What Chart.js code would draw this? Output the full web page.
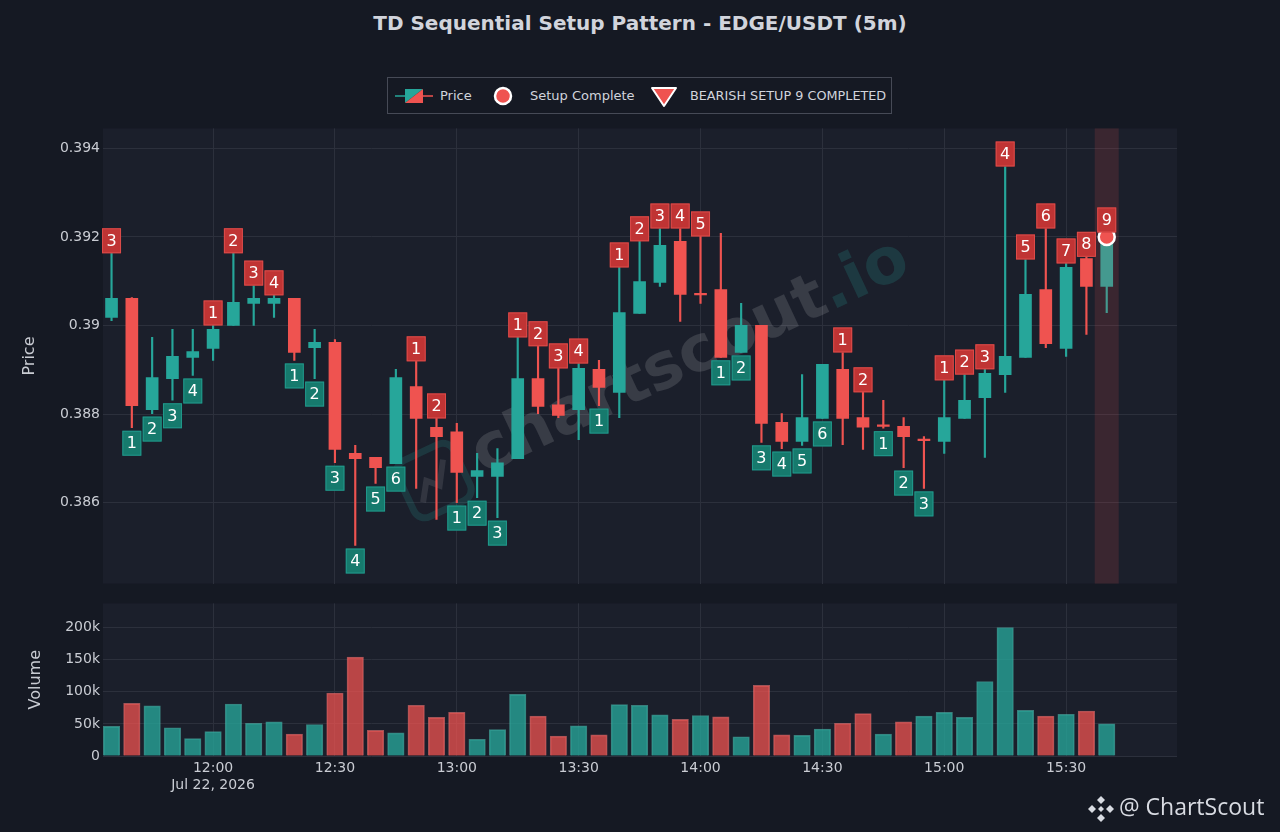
<!DOCTYPE html>
<html lang="en">
<head>
    <meta charset="UTF-8">
    <meta name="viewport" content="width=device-width, initial-scale=1.0">
    <title>TD Sequential Setup Pattern - EDGE/USDT (5m)</title>
    <script src="https://cdn.jsdelivr.net/npm/chart.js"></script>
    <style>
        * {
            margin: 0;
            padding: 0;
            box-sizing: border-box;
        }
        body {
            width: 1280px;
            height: 832px;
            position: relative;
            overflow: hidden;
            background: #151923;
            color: #d1d4dc;
            font-family: 'DejaVu Sans', sans-serif;
        }
        h1 {
            position: absolute;
            top: 11px;
            left: 0;
            width: 1280px;
            text-align: center;
            font-size: 20px;
            font-weight: bold;
            color: #d1d4dc;
        }
        .legend {
            position: absolute;
            left: 387px;
            top: 77px;
            width: 505px;
            height: 37px;
            border: 1px solid #464a56;
            font-size: 13px;
        }
        .legend span, .legend svg {
            position: absolute;
        }
        .legend span {
            top: 10px;
            white-space: nowrap;
        }
        #priceChart {
            position: absolute;
            left: 0;
            top: 117px;
        }
        #volumeChart {
            position: absolute;
            left: 0;
            top: 592px;
        }
        .brand {
            position: absolute;
            left: 1087px;
            top: 790px;
            height: 32px;
            font-family: 'Open Sans', sans-serif;
            font-size: 23px;
            color: #d8dbe2;
            white-space: nowrap;
        }
        .brand svg {
            vertical-align: middle;
            margin-right: 4px;
        }
    </style>
</head>
<body>
    <h1>TD Sequential Setup Pattern - EDGE/USDT (5m)</h1>
    <div class="legend">
        <svg style="left:7px; top:10px" width="38" height="16" viewBox="0 0 38 16">
            <line x1="0" y1="8" x2="10" y2="8" stroke="#26a69a" stroke-width="1.5"/>
            <polygon points="10,1 28,1 10,15" fill="#26a69a"/>
            <polygon points="28,1 28,15 10,15" fill="#ef5350"/>
            <line x1="28" y1="8" x2="38" y2="8" stroke="#ef5350" stroke-width="1.5"/>
        </svg>
        <span style="left:52px">Price</span>
        <svg style="left:104px; top:7px" width="22" height="22" viewBox="0 0 22 22">
            <circle cx="11" cy="11" r="8" fill="#ef5350" stroke="#ffffff" stroke-width="2.5"/>
        </svg>
        <span style="left:142px">Setup Complete</span>
        <svg style="left:262px; top:8px" width="28" height="22" viewBox="0 0 28 22">
            <polygon points="2,2 26,2 14,20" fill="#ef5350" stroke="#ffffff" stroke-width="2" stroke-linejoin="round"/>
        </svg>
        <span style="left:302px; font-size:12.8px">BEARISH SETUP 9 COMPLETED</span>
    </div>
    <canvas id="priceChart" width="1280" height="478"></canvas>
    <canvas id="volumeChart" width="1280" height="219"></canvas>
    <div class="brand">
        <svg width="28" height="28" viewBox="0 0 28 28">
            <g fill="#d8dbe2">
                <polygon points="14,1 18,5 14,9 10,5"/>
                <polygon points="14,19 18,23 14,27 10,23"/>
                <polygon points="5,10 9,14 5,18 1,14"/>
                <polygon points="23,10 27,14 23,18 19,14"/>
                <polygon points="14,11 17,14 14,17 11,14"/>
            </g>
        </svg>@ ChartScout
    </div>
    <script>
        // candles, 5 minute bars, Jul 22 2026
        const times = ['11:35', '11:40', '11:45', '11:50', '11:55', '12:00', '12:05', '12:10', '12:15', '12:20',
                       '12:25', '12:30', '12:35', '12:40', '12:45', '12:50', '12:55', '13:00', '13:05', '13:10',
                       '13:15', '13:20', '13:25', '13:30', '13:35', '13:40', '13:45', '13:50', '13:55', '14:00',
                       '14:05', '14:10', '14:15', '14:20', '14:25', '14:30', '14:35', '14:40', '14:45', '14:50',
                       '14:55', '15:00', '15:05', '15:10', '15:15', '15:20', '15:25', '15:30', '15:35', '15:40'];
        const openPrices = [0.39018, 0.39061, 0.38810, 0.38880, 0.38928, 0.38948, 0.39000, 0.39050, 0.39050, 0.39061,
                            0.38950, 0.38962, 0.38711, 0.38702, 0.38688, 0.38862, 0.38770, 0.38760, 0.38659, 0.38659,
                            0.38699, 0.38880, 0.38821, 0.38810, 0.38901, 0.38849, 0.39027, 0.39097, 0.39190, 0.39069,
                            0.39081, 0.38939, 0.39000, 0.38781, 0.38738, 0.38790, 0.38901, 0.38792, 0.38772, 0.38772,
                            0.38740, 0.38738, 0.38790, 0.38837, 0.38889, 0.38928, 0.39081, 0.38948, 0.39151, 0.39088];
        const highPrices = [0.39163, 0.39063, 0.38973, 0.38991, 0.38991, 0.39000, 0.39163, 0.39090, 0.39068, 0.39061,
                            0.38991, 0.38968, 0.38729, 0.38702, 0.38901, 0.38919, 0.38790, 0.38779, 0.38711, 0.38722,
                            0.38973, 0.38953, 0.38903, 0.38914, 0.38921, 0.39131, 0.39190, 0.39219, 0.39219, 0.39201,
                            0.39208, 0.39050, 0.39000, 0.38801, 0.38889, 0.38912, 0.38939, 0.38849, 0.38831, 0.38792,
                            0.38749, 0.38876, 0.38889, 0.38901, 0.39359, 0.39149, 0.39219, 0.39140, 0.39155, 0.39210];
        const lowPrices = [0.39011, 0.38769, 0.38801, 0.38831, 0.38887, 0.38921, 0.39000, 0.39000, 0.39018, 0.38921,
                           0.38880, 0.38690, 0.38503, 0.38643, 0.38688, 0.38632, 0.38562, 0.38600, 0.38611, 0.38566,
                           0.38699, 0.38801, 0.38792, 0.38742, 0.38819, 0.38792, 0.39027, 0.39088, 0.39009, 0.39050,
                           0.38928, 0.38939, 0.38736, 0.38722, 0.38729, 0.38790, 0.38731, 0.38720, 0.38768, 0.38679,
                           0.38632, 0.38711, 0.38790, 0.38702, 0.38849, 0.38928, 0.38950, 0.38930, 0.38980, 0.39029];
        const closePrices = [0.39061, 0.38819, 0.38882, 0.38930, 0.38941, 0.38991, 0.39052, 0.39061, 0.39061, 0.38939,
                             0.38962, 0.38720, 0.38699, 0.38679, 0.38882, 0.38790, 0.38749, 0.38668, 0.38672, 0.38690,
                             0.38880, 0.38817, 0.38797, 0.38903, 0.38860, 0.39029, 0.39099, 0.39181, 0.39070, 0.39069,
                             0.38928, 0.39000, 0.38779, 0.38738, 0.38792, 0.38912, 0.38790, 0.38770, 0.38772, 0.38749,
                             0.38740, 0.38792, 0.38831, 0.38892, 0.38930, 0.39070, 0.38959, 0.39131, 0.39088, 0.39200];
        const volumes = [46000, 82000, 78000, 44000, 27000, 38000, 81000, 51000, 53000, 34000,
                         49000, 98000, 154000, 40000, 36000, 79000, 60000, 68000, 26000, 41000,
                         96000, 62000, 31000, 47000, 33000, 80000, 79000, 64000, 57000, 63000,
                         61000, 30000, 110000, 33000, 32000, 42000, 51000, 66000, 34000, 53000,
                         62000, 68000, 60000, 116000, 200000, 71000, 62000, 65000, 70000, 50000];
        // TD setup counts: sell counts sit above the candle, buy counts below
        const sellSetup = [3, null, null, null, null, 1, 2, 3, 4, null,
                           null, null, null, null, null, 1, 2, null, null, null,
                           1, 2, 3, 4, null, 1, 2, 3, 4, 5,
                           null, null, null, null, null, null, 1, 2, null, null,
                           null, 1, 2, 3, 4, 5, 6, 7, 8, 9];
        const buySetup = [null, 1, 2, 3, 4, null, null, null, null, 1,
                          2, 3, 4, 5, 6, null, null, 1, 2, 3,
                          null, null, null, null, 1, null, null, null, null, null,
                          1, 2, 3, 4, 5, 6, null, null, 1, 2,
                          3, null, null, null, null, null, null, null, null, null];
        const timeTicks = ['12:00', '12:30', '13:00', '13:30', '14:00', '14:30', '15:00', '15:30'];
        const dateLabel = 'Jul 22, 2026';
        const priceTicks = [0.386, 0.388, 0.39, 0.392, 0.394];
        const volumeTicks = [0, 50000, 100000, 150000, 200000];

        const UP = '#26a69a';
        const DOWN = '#ef5350';
        const GRID = '#2c303c';
        const TEXT = '#c9ccd3';
        const PLOT_BG = '#1b1f2b';

        Chart.defaults.font.family = "'DejaVu Sans', sans-serif";
        Chart.defaults.color = TEXT;

        function toMinutes(s) {
            const parts = s.split(':').map(Number);
            return parts[0] * 60 + parts[1];
        }

        const mins = times.map(toMinutes);
        const xMin = mins[0] - 2.1;
        const xMax = mins[mins.length - 1] + 17.3;
        const completeIdx = sellSetup.indexOf(9);

        const candleColors = mins.map((m, i) => closePrices[i] > openPrices[i] ? UP : DOWN);
        const volumeColors = mins.map((m, i) => closePrices[i] >= openPrices[i] ? 'rgba(38,166,154,0.78)' : 'rgba(239,83,80,0.75)');
        const volumeBorders = mins.map((m, i) => closePrices[i] >= openPrices[i] ? 'rgba(80,190,178,0.6)' : 'rgba(250,120,118,0.6)');

        function timeAxis(showLabels) {
            return {
                type: 'linear',
                min: xMin,
                max: xMax,
                offset: false,
                afterBuildTicks: s => { s.ticks = timeTicks.map(t => ({ value: toMinutes(t) })); },
                grid: { color: GRID, drawTicks: false, offset: false },
                border: { display: false },
                ticks: {
                    display: showLabels,
                    autoSkip: false,
                    maxRotation: 0,
                    padding: 4,
                    color: TEXT,
                    font: { size: 14 },
                    callback: (v, i) => i === 0 ? [timeTicks[i], dateLabel] : timeTicks[i]
                },
                afterFit: s => { s.height = showLabels ? 45 : 0; }
            };
        }

        function fillPlot(chart) {
            const a = chart.chartArea;
            chart.ctx.save();
            chart.ctx.fillStyle = PLOT_BG;
            chart.ctx.fillRect(a.left, a.top, a.right - a.left, a.bottom - a.top);
            chart.ctx.restore();
        }

        function drawWatermark(chart) {
            const ctx = chart.ctx;
            const a = chart.chartArea;
            ctx.save();
            ctx.beginPath();
            ctx.rect(a.left, a.top, a.right - a.left, a.bottom - a.top);
            ctx.clip();
            ctx.translate(a.left + 588, a.top + 230);
            ctx.rotate(-0.44);
            ctx.font = "bold 64px 'DejaVu Sans'";
            ctx.textBaseline = 'middle';
            const w1 = ctx.measureText('chartscout').width;
            const w2 = ctx.measureText('.io').width;
            const x0 = -(w1 + w2) / 2;
            ctx.fillStyle = 'rgba(255,255,255,0.13)';
            ctx.fillText('chartscout', x0, 0);
            ctx.fillStyle = 'rgba(38,166,154,0.2)';
            ctx.fillText('.io', x0 + w1, 0);
            // logo
            ctx.strokeStyle = 'rgba(38,166,154,0.18)';
            ctx.lineWidth = 7;
            ctx.beginPath();
            ctx.roundRect(x0 - 78, -30, 62, 62, 12);
            ctx.stroke();
            ctx.strokeStyle = 'rgba(255,255,255,0.1)';
            ctx.lineWidth = 6;
            ctx.beginPath();
            ctx.moveTo(x0 - 66, 16);
            ctx.lineTo(x0 - 54, -2);
            ctx.lineTo(x0 - 44, 8);
            ctx.lineTo(x0 - 30, -14);
            ctx.stroke();
            ctx.restore();
        }

        function drawBand(chart) {
            const ctx = chart.ctx;
            const a = chart.chartArea;
            const xs = chart.scales.x;
            const x1 = xs.getPixelForValue(mins[completeIdx] - 2.95);
            const x2 = xs.getPixelForValue(mins[completeIdx] + 2.95);
            ctx.save();
            ctx.fillStyle = 'rgba(239,83,80,0.15)';
            ctx.fillRect(x1, a.top, x2 - x1, a.bottom - a.top);
            ctx.restore();
        }

        function drawCountBox(ctx, x, yTop, text, fill, stroke) {
            const w = 19, h = 25;
            ctx.fillStyle = fill;
            ctx.fillRect(x - w / 2, yTop, w, h);
            ctx.strokeStyle = stroke;
            ctx.lineWidth = 1;
            ctx.strokeRect(x - w / 2 + 0.5, yTop + 0.5, w - 1, h - 1);
            ctx.fillStyle = '#ffffff';
            ctx.fillText(text, x, yTop + h / 2 + 1);
        }

        function drawCounts(chart) {
            const ctx = chart.ctx;
            const xs = chart.scales.x;
            const ys = chart.scales.y;
            ctx.save();
            ctx.font = "16px 'DejaVu Sans'";
            ctx.textAlign = 'center';
            ctx.textBaseline = 'middle';
            mins.forEach((m, i) => {
                const x = xs.getPixelForValue(m);
                if (sellSetup[i] !== null) {
                    const yHigh = ys.getPixelForValue(highPrices[i]);
                    drawCountBox(ctx, x, yHigh - 25, String(sellSetup[i]), '#c03434', 'rgba(226,80,78,0.85)');
                }
                if (buySetup[i] !== null) {
                    const yLow = ys.getPixelForValue(lowPrices[i]);
                    drawCountBox(ctx, x, yLow + 3, String(buySetup[i]), '#167a6d', 'rgba(38,166,154,0.7)');
                }
            });
            ctx.restore();
        }

        const priceExtras = {
            id: 'priceExtras',
            beforeDraw: fillPlot,
            beforeDatasetsDraw: drawWatermark,
            afterDatasetDraw(chart, args) {
                if (args.index === 0) drawBand(chart);
            },
            afterDatasetsDraw: drawCounts
        };

        function renderPrice() {
            const ctx = document.getElementById('priceChart').getContext('2d');
            new Chart(ctx, {
                type: 'bar',
                data: {
                    datasets: [{
                        label: 'body',
                        data: mins.map((m, i) => ({ x: m, y: [openPrices[i], closePrices[i]] })),
                        backgroundColor: candleColors,
                        barThickness: 12,
                        minBarLength: 1.5,
                        grouped: false,
                        order: 1
                    }, {
                        label: 'wick',
                        data: mins.map((m, i) => ({ x: m, y: [lowPrices[i], highPrices[i]] })),
                        backgroundColor: candleColors,
                        barThickness: 1.5,
                        grouped: false,
                        order: 2
                    }, {
                        type: 'scatter',
                        label: 'Setup Complete',
                        data: [{ x: mins[completeIdx], y: closePrices[completeIdx] }],
                        backgroundColor: DOWN,
                        borderColor: '#ffffff',
                        borderWidth: 2.5,
                        pointRadius: 8,
                        order: 0
                    }]
                },
                options: {
                    responsive: false,
                    animation: false,
                    layout: { padding: { top: 8, right: 103, bottom: 7, left: 0 } },
                    plugins: { legend: { display: false }, tooltip: { enabled: false } },
                    scales: {
                        x: timeAxis(false),
                        y: {
                            position: 'left',
                            min: 0.38417,
                            max: 0.39445,
                            afterBuildTicks: s => { s.ticks = priceTicks.map(v => ({ value: v })); },
                            grid: { color: GRID, drawTicks: false },
                            border: { display: false },
                            ticks: { color: TEXT, font: { size: 14 }, padding: 3, callback: v => String(v) },
                            title: { display: true, text: 'Price', color: TEXT, font: { size: 16 }, padding: { top: 20, bottom: 0 } },
                            afterFit: s => { s.width = 103; }
                        }
                    }
                },
                plugins: [priceExtras]
            });
        }

        function renderVolume() {
            const ctx = document.getElementById('volumeChart').getContext('2d');
            new Chart(ctx, {
                type: 'bar',
                data: {
                    datasets: [{
                        label: 'Volume',
                        data: mins.map((m, i) => ({ x: m, y: volumes[i] })),
                        backgroundColor: volumeColors,
                        borderColor: volumeBorders,
                        borderWidth: 1,
                        barThickness: 16.5
                    }]
                },
                options: {
                    responsive: false,
                    animation: false,
                    layout: { padding: { top: 8, right: 103, bottom: 10, left: 0 } },
                    plugins: { legend: { display: false }, tooltip: { enabled: false } },
                    scales: {
                        x: timeAxis(true),
                        y: {
                            position: 'left',
                            min: 0,
                            max: 237500,
                            afterBuildTicks: s => { s.ticks = volumeTicks.map(v => ({ value: v })); },
                            grid: { color: GRID, drawTicks: false },
                            border: { display: false },
                            ticks: { color: TEXT, font: { size: 14 }, padding: 3, callback: v => v === 0 ? '0' : (v / 1000) + 'k' },
                            title: { display: true, text: 'Volume', color: TEXT, font: { size: 16 }, padding: { top: 26, bottom: 0 } },
                            afterFit: s => { s.width = 103; }
                        }
                    }
                },
                plugins: [{ id: 'volBg', beforeDraw: fillPlot }]
            });
        }

        window.onload = function() {
            renderPrice();
            renderVolume();
        };
    </script>
</body>
</html>
